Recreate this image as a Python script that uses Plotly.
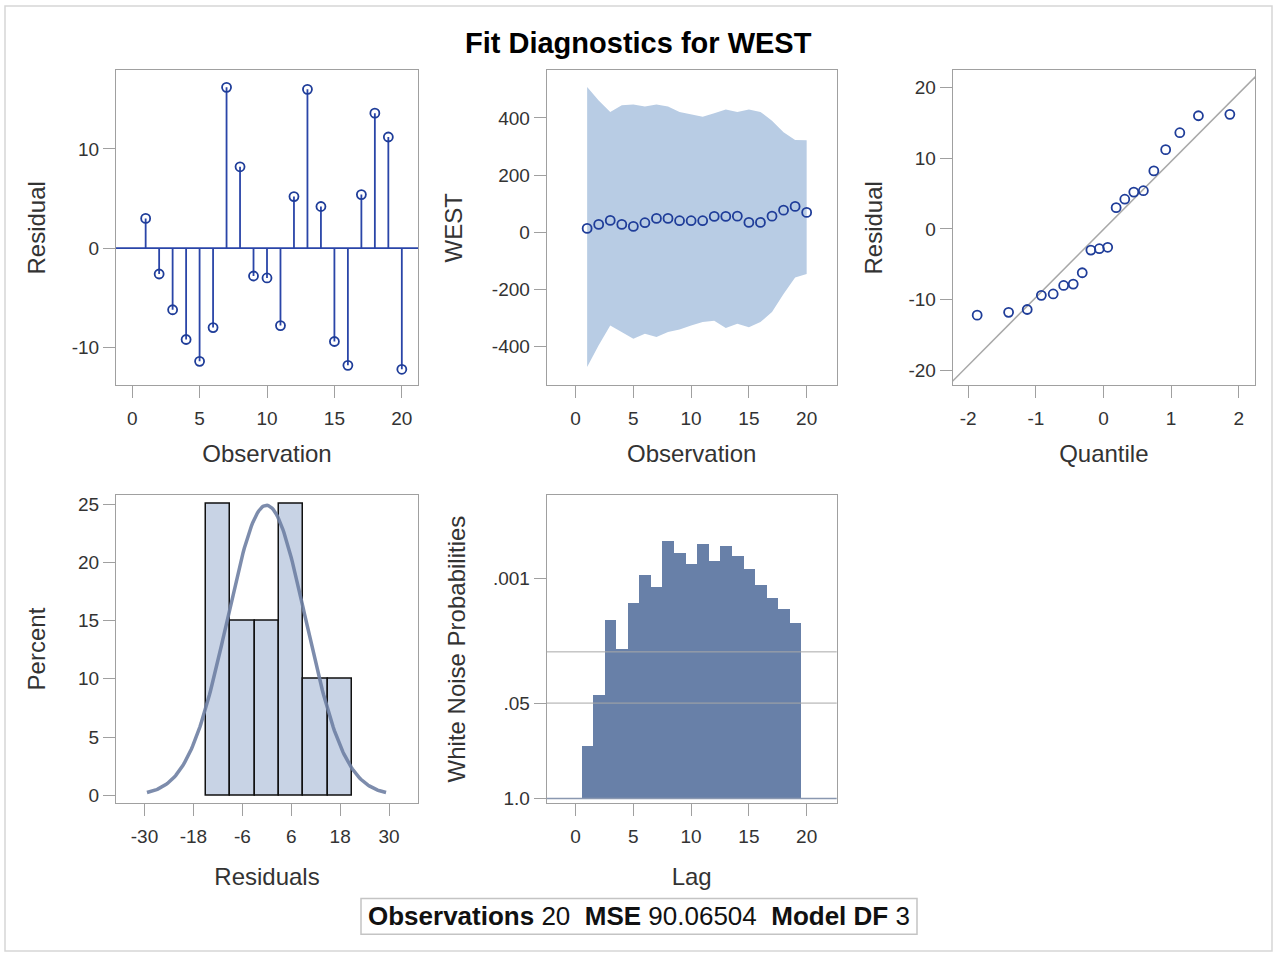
import numpy as np
import plotly.graph_objects as go
from statistics import NormalDist

W, H = 1277, 962

# ---- data ----
obs = list(range(1, 21))
residuals = [3.0, -2.6, -6.2, -9.2, -11.4, -8.0, 16.2, 8.2, -2.8, -3.0,
             -7.8, 5.2, 16.0, 4.2, -9.4, -11.8, 5.4, 13.6, 11.2, -12.2]
west_actual = [13, 27, 41, 27, 20, 33, 48, 48, 40, 40,
               40, 55, 55, 56, 34, 34, 56, 77, 90, 69]
band_upper = [508, 461, 421, 444, 447, 440, 447, 440, 421, 412,
              404, 416, 429, 421, 429, 421, 390, 350, 323, 322]
band_lower = [-472, -396, -327, -350, -373, -356, -367, -350, -341, -327,
              -315, -310, -336, -321, -333, -315, -280, -217, -159, -147]
hist_centers = [-12, -6, 0, 6, 12, 18]
hist_pct = [25, 15, 15, 25, 10, 10]
hist_width = 6
hist_ticks = [-30, -18, -6, 6, 18, 30]
lags = list(range(1, 20))
wn_prob = [0.19, 0.038, 0.0036, 0.009, 0.0021, 0.00089, 0.0013, 0.0003,
           0.00045, 0.00063, 0.00033, 0.00057, 0.00035, 0.00048, 0.00073,
           0.0012, 0.0018, 0.0026, 0.004]
wn_ticks = [1.0, 0.05, 0.001]
wn_tick_text = ["1.0", ".05", ".001"]
wn_ref = [0.05, 0.01]
n_obs, mse, model_df = 20, "90.06504", 3

# ---- styles ----
FONT = "Liberation Sans, Arial, sans-serif"
TXT = "#333333"
FRAME = "#a0a0a0"
MARK = "#1f3d99"
NEEDLE = "#2a45a8"
BAND = "#b8cce4"
HIST_FILL = "#c8d3e5"
CURVE = "#6f80a4"
WN_FILL = "#6880a8"


def px_x(a, b):
    return [a / W, b / W]


def px_y(top, bottom):
    return [1 - bottom / H, 1 - top / H]


def axis(domain, anchor, rng, title, tickvals, ticktext=None, standoff=12, labelgap=0):
    if ticktext is None:
        ticktext = [str(v) for v in tickvals]  # plain hyphen for negatives
    return dict(domain=domain, anchor=anchor, range=rng, showline=True, mirror=True,
                linecolor=FRAME, linewidth=1, ticks="outside", ticklen=12,
                tickcolor=FRAME, showgrid=False, zeroline=False,
                tickmode="array", tickvals=tickvals, ticktext=ticktext,
                ticklabelstandoff=labelgap,
                tickfont=dict(size=19, color=TXT, family=FONT),
                title=dict(text=title, font=dict(size=24, color=TXT, family=FONT),
                           standoff=standoff))


MARKER = dict(symbol="circle-open", size=9, color=MARK, line=dict(width=1.8, color=MARK))

fig = go.Figure()

# Residual needle plot
nx, ny = [], []
for o, r in zip(obs, residuals):
    nx += [o, o, None]
    ny += [0, r, None]
fig.add_trace(go.Scatter(x=nx, y=ny, mode="lines", line=dict(color=NEEDLE, width=1.8),
                         xaxis="x", yaxis="y", hoverinfo="skip"))
fig.add_trace(go.Scatter(x=obs, y=residuals, mode="markers", marker=MARKER,
                         xaxis="x", yaxis="y"))

# Actual series with confidence band
fig.add_trace(go.Scatter(x=obs, y=band_upper, mode="lines", line=dict(width=0),
                         xaxis="x2", yaxis="y2", hoverinfo="skip"))
fig.add_trace(go.Scatter(x=obs, y=band_lower, mode="lines", line=dict(width=0),
                         fill="tonexty", fillcolor=BAND,
                         xaxis="x2", yaxis="y2", hoverinfo="skip"))
fig.add_trace(go.Scatter(x=obs, y=west_actual, mode="markers", marker=MARKER,
                         xaxis="x2", yaxis="y2"))

# Normal quantile plot
res = np.array(residuals)
mu, sd = res.mean(), res.std(ddof=1)
n = len(res)
nd = NormalDist()
quant = [nd.inv_cdf((i - 0.375) / (n + 0.25)) for i in range(1, n + 1)]
ref_x = np.array([-2.4, 2.4])
fig.add_trace(go.Scatter(x=ref_x, y=mu + sd * ref_x, mode="lines",
                         line=dict(color="#a8a8a8", width=1.5),
                         xaxis="x3", yaxis="y3", hoverinfo="skip"))
fig.add_trace(go.Scatter(x=quant, y=np.sort(res), mode="markers", marker=MARKER,
                         xaxis="x3", yaxis="y3"))

# Residual histogram with normal density
fig.add_trace(go.Bar(x=hist_centers, y=hist_pct, width=hist_width,
                     marker=dict(color=HIST_FILL, line=dict(color="#111111", width=1.5)),
                     xaxis="x4", yaxis="y4"))
cx = np.linspace(mu - 3.05 * sd, mu + 3.05 * sd, 200)
cy = 100 * hist_width / (sd * np.sqrt(2 * np.pi)) * np.exp(-0.5 * ((cx - mu) / sd) ** 2)
fig.add_trace(go.Scatter(x=cx, y=cy, mode="lines", line=dict(color=CURVE, width=3.5),
                         opacity=0.9, xaxis="x4", yaxis="y4", hoverinfo="skip"))

# White noise probabilities
wn_y = -np.log10(np.array(wn_prob))
fig.add_trace(go.Bar(x=lags, y=wn_y, width=1.02,
                     marker=dict(color=WN_FILL, line=dict(width=0)),
                     xaxis="x5", yaxis="y5"))

dx1, dx2, dx3 = px_x(116, 418), px_x(546.7, 836.7), px_x(952.7, 1255)
dy_top, dy_bot = px_y(70, 387), px_y(497.3, 808.3)
obs_ticks = [0, 5, 10, 15, 20]

fig.update_layout(
    width=W, height=H, margin=dict(l=0, r=0, t=0, b=0),
    paper_bgcolor="white", plot_bgcolor="white", showlegend=False, bargap=0,
    font=dict(family=FONT, color=TXT),
    xaxis=axis(dx1, "y", [-1.2, 21.2], "Observation", obs_ticks, standoff=17, labelgap=4),
    yaxis=axis(dy_top, "x", [-13.8, 17.9], "Residual", [-10, 0, 10], standoff=19),
    xaxis2=axis(dx2, "y2", [-2.5, 22.6], "Observation", obs_ticks, standoff=17, labelgap=4),
    yaxis2=axis(dy_top, "x2", [-536, 566], "WEST", [-400, -200, 0, 200, 400], standoff=22),
    xaxis3=axis(dx3, "y3", [-2.23, 2.24], "Quantile", [-2, -1, 0, 1, 2], standoff=17, labelgap=4),
    yaxis3=axis(dy_top, "x3", [-22.1, 22.4], "Residual", [-20, -10, 0, 10, 20], standoff=19),
    xaxis4=axis(dx1, "y4", [-37, 37.1], "Residuals", hist_ticks, standoff=21, labelgap=4),
    yaxis4=axis(dy_bot, "x4", [-0.7, 25.8], "Percent", [0, 5, 10, 15, 20, 25], standoff=25),
    xaxis5=axis(dx2, "y5", [-2.5, 22.6], "Lag", obs_ticks, standoff=21, labelgap=4),
    yaxis5=axis(dy_bot, "x5", [-0.068, 4.145], "White Noise Probabilities",
                list(-np.log10(wn_ticks)), wn_tick_text, standoff=20),
)

shapes = [
    # zero line for residual needles
    dict(type="line", xref="x domain", yref="y", x0=0, x1=1, y0=0, y1=0,
         line=dict(color=NEEDLE, width=1.8), layer="above"),
    # baseline at probability 1.0
    dict(type="line", xref="x5 domain", yref="y5", x0=0, x1=1, y0=0, y1=0,
         line=dict(color="#8a98b0", width=1.5), layer="above"),
    # outer border
    dict(type="rect", xref="paper", yref="paper", x0=5 / W, x1=1272 / W,
         y0=1 - 957 / H, y1=1 - 5 / H, line=dict(color="#d6d6d6", width=1.5)),
    # footer box
    dict(type="rect", xref="paper", yref="paper", x0=361 / W, x1=917 / W,
         y0=1 - 940 / H, y1=1 - 904 / H, line=dict(color="#c4c4c4", width=1.5)),
]
for p in wn_ref:
    v = -np.log10(p)
    shapes.append(dict(type="line", xref="x5 domain", yref="y5", x0=0, x1=1, y0=v, y1=v,
                       line=dict(color="#a8a8a8", width=1), layer="above"))
fig.update_layout(shapes=shapes)

sp = "\u00a0\u00a0"
footer = (f"<b>Observations</b> {n_obs}{sp}<b>MSE</b> {mse}{sp}"
          f"<b>Model DF</b> {model_df}")
fig.update_layout(annotations=[
    dict(text="<b>Fit Diagnostics for WEST</b>", x=638 / W, y=1 - 42 / H,
         xref="paper", yref="paper", showarrow=False, xanchor="center", yanchor="middle",
         font=dict(size=29, color="#000000", family=FONT)),
    dict(text=footer, x=639 / W, y=1 - 922 / H, xref="paper", yref="paper",
         showarrow=False, xanchor="center", yanchor="middle",
         font=dict(size=26, color="#111111", family=FONT)),
])

fig.write_html("out.html")
